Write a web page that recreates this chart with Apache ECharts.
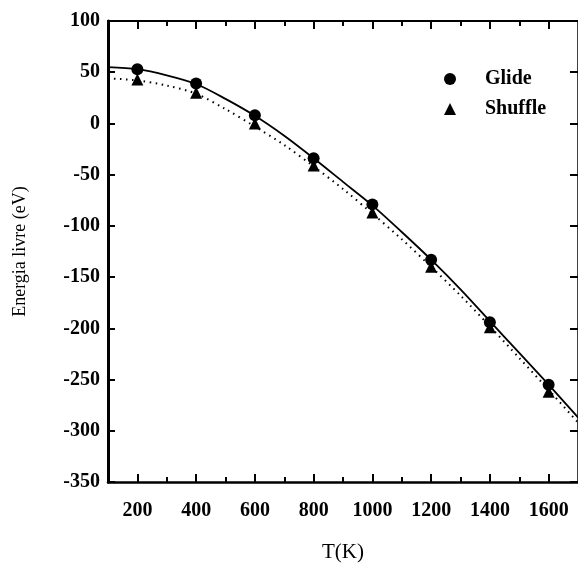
<!DOCTYPE html>
<html>
<head>
<meta charset="utf-8">
<script src="https://cdn.jsdelivr.net/npm/echarts@6/dist/echarts.min.js"></script>
<style>
html,body{margin:0;padding:0;background:#fff;}
#chart{width:578px;height:568px;}
</style>
</head>
<body>
<div id="chart"></div>
<script>
// ---- data ----
const temps = [200, 400, 600, 800, 1000, 1200, 1400, 1600];
const glide = [53, 39, 8, -34, -79, -133, -194, -255];
const shuffle = [43, 30, 0, -41, -87, -140, -199, -262];

const curveT = [100, 200, 300, 400, 500, 600, 700, 800, 900, 1000, 1100, 1200, 1300, 1400, 1500, 1600, 1700];
const glideFit = [55, 53, 47, 38.5, 24, 7.5, -12, -34, -57, -80, -106, -133, -162, -193, -224, -255, -287];
const shuffleFit = [44, 42, 37, 29, 14, -3, -21, -42, -64, -88, -113, -140, -168, -198, -229, -260, -292];

const xMajor = [200, 400, 600, 800, 1000, 1200, 1400, 1600];
const xMinor = [300, 500, 700, 900, 1100, 1300, 1500];

const FONT = 'Liberation Serif';

function pairs(xs, ys) { return xs.map((x, i) => [x, ys[i]]); }

const chart = echarts.init(document.getElementById('chart'), null, {renderer: 'canvas'});

const baseX = {
  type: 'value', min: 100, max: 1700, gridIndex: 0,
  splitLine: {show: false}
};

const option = {
  backgroundColor: '#ffffff',
  animation: false,
  grid: {left: 108, top: 21, width: 472, height: 465, containLabel: false},
  legend: {
    orient: 'vertical',
    left: 439, top: 64,
    itemWidth: 12, itemHeight: 12, itemGap: 10,
    data: [
      {name: 'Glide', icon: 'circle'},
      {name: 'Shuffle', icon: 'triangle'}
    ],
    itemStyle: {color: '#000', opacity: 1},
    textStyle: {fontFamily: FONT, fontSize: 20, fontWeight: 'bold', color: '#000', padding: [0, 0, 0, 24]}
  },
  xAxis: [
    Object.assign({}, baseX, {
      position: 'bottom',
      name: 'T(K)', nameLocation: 'middle', nameGap: 60,
      nameTextStyle: {fontFamily: FONT, fontSize: 21, color: '#000'},
      axisLine: {show: true, onZero: false, lineStyle: {color: '#000', width: 2.5}},
      axisTick: {show: true, inside: true, length: 8, customValues: xMajor, lineStyle: {color: '#000', width: 2}},
      axisLabel: {show: true, margin: 19, customValues: xMajor, formatter: v => String(v),
        fontFamily: FONT, fontSize: 20, fontWeight: 'bold', color: '#000'}
    }),
    Object.assign({}, baseX, {
      position: 'bottom',
      axisLine: {show: false, onZero: false},
      axisTick: {show: true, inside: true, length: 5, customValues: xMinor, lineStyle: {color: '#000', width: 2}},
      axisLabel: {show: false, customValues: xMinor}
    }),
    Object.assign({}, baseX, {
      position: 'top',
      axisLine: {show: true, onZero: false, lineStyle: {color: '#000', width: 2.2}},
      axisTick: {show: true, inside: true, length: 8, customValues: xMajor, lineStyle: {color: '#000', width: 2}},
      axisLabel: {show: false, customValues: xMajor}
    }),
    Object.assign({}, baseX, {
      position: 'top',
      axisLine: {show: false, onZero: false},
      axisTick: {show: true, inside: true, length: 5, customValues: xMinor, lineStyle: {color: '#000', width: 2}},
      axisLabel: {show: false, customValues: xMinor}
    })
  ],
  yAxis: [
    {
      type: 'value', min: -350, max: 100, interval: 50, position: 'left',
      name: 'Energia livre (eV)', nameLocation: 'middle', nameGap: 79, nameRotate: 90,
      nameTextStyle: {fontFamily: FONT, fontSize: 18, color: '#000'},
      splitLine: {show: false},
      axisLine: {show: true, onZero: false, lineStyle: {color: '#000', width: 3}},
      axisTick: {show: true, inside: true, length: 7, lineStyle: {color: '#000', width: 2}},
      axisLabel: {margin: 8, fontFamily: FONT, fontSize: 20, fontWeight: 'bold', color: '#000'}
    },
    {
      type: 'value', min: -350, max: 100, interval: 50, position: 'right',
      splitLine: {show: false},
      axisLine: {show: true, onZero: false, lineStyle: {color: '#000', width: 2.5}},
      axisTick: {show: true, inside: true, length: 8, lineStyle: {color: '#000', width: 2}},
      axisLabel: {show: false}
    }
  ],
  series: [
    {
      name: 'GlideFit', type: 'line', xAxisIndex: 0, yAxisIndex: 0,
      data: pairs(curveT, glideFit), smooth: 0.3, showSymbol: false, symbol: 'none',
      lineStyle: {color: '#000', width: 1.8, type: 'solid'}, z: 2
    },
    {
      name: 'ShuffleFit', type: 'line', xAxisIndex: 0, yAxisIndex: 0,
      data: pairs(curveT, shuffleFit), smooth: 0.3, showSymbol: false, symbol: 'none',
      lineStyle: {color: '#000', width: 2, type: [1.5, 4.5]}, z: 2
    },
    {
      name: 'Shuffle', type: 'scatter', xAxisIndex: 0, yAxisIndex: 0,
      data: pairs(temps, shuffle), symbol: 'triangle', symbolSize: 12,
      itemStyle: {color: '#000', opacity: 1}, z: 3
    },
    {
      name: 'Glide', type: 'scatter', xAxisIndex: 0, yAxisIndex: 0,
      data: pairs(temps, glide), symbol: 'circle', symbolSize: 12,
      itemStyle: {color: '#000', opacity: 1}, z: 4
    }
  ]
};
chart.setOption(option);
</script>
</body>
</html>
